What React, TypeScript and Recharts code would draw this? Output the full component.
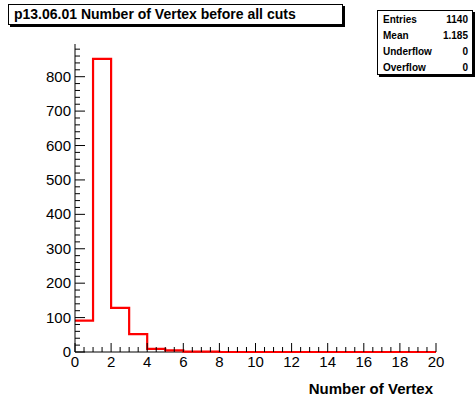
import { ComposedChart, Line, XAxis, YAxis, ReferenceLine } from 'recharts';

// bin lower edges 0..20 (last point closes the final step)
const binEdges = [0, 1, 2, 3, 4, 5, 6, 7, 8, 9, 10, 11, 12, 13, 14, 15, 16, 17, 18, 19, 20];
const binCounts = [91, 852, 128, 52, 9, 5, 1, 1, 0, 0, 0, 0, 0, 0, 0, 0, 0, 0, 0, 0, 0];

const xTicks = Array.from({ length: 41 }, (_, i) => i * 0.5);
const yTicks = Array.from({ length: 45 }, (_, i) => i * 20);
const xDomain = [0, 20];
const yDomain = [0, 895];

const statLabels = ['Entries', 'Mean', 'Underflow', 'Overflow'];
const statValues = ['1140', '1.185', '0', '0'];

const FONT = '"Liberation Sans", Arial, Helvetica, sans-serif';

const data = binEdges.map((x, i) => ({ x, n: binCounts[i] }));

const renderYTick = (props: any) => {
  const { x, y, payload } = props;
  const major = payload.value % 100 === 0;
  return (
    <g>
      <line x1={x} x2={x + (major ? 10 : 5)} y1={y} y2={y} stroke="#000" strokeWidth={1} />
      {major && (
        <text x={x - 4} y={y + 5} textAnchor="end" fontFamily={FONT} fontSize={15} fill="#000">
          {payload.value}
        </text>
      )}
    </g>
  );
};

const renderXTick = (props: any) => {
  const { x, y, payload } = props;
  const major = payload.value % 2 === 0;
  return (
    <g>
      <line x1={x} x2={x} y1={y} y2={y - (major ? 9 : 5)} stroke="#000" strokeWidth={1} />
      {major && (
        <text x={x} y={y + 15} textAnchor="middle" fontFamily={FONT} fontSize={15} fill="#000">
          {payload.value}
        </text>
      )}
    </g>
  );
};

export default function App() {
  return (
    <div style={{ position: 'fixed', left: 0, top: 0, width: 475, height: 401, background: '#fff', fontFamily: FONT }}>
      <ComposedChart width={475} height={401} data={data} margin={{ top: 44, right: 39, bottom: 19, left: 15 }}>
        <XAxis
          dataKey="x"
          type="number"
          domain={xDomain}
          ticks={xTicks}
          interval={0}
          height={30}
          tickSize={0}
          tickMargin={0}
          tickLine={false}
          axisLine={false}
          tick={renderXTick}
          stroke="#000"
        />
        <XAxis xAxisId="top" orientation="top" dataKey="x" type="number" domain={xDomain} height={0} tick={false} tickLine={false} stroke="#000" />
        <YAxis
          type="number"
          domain={yDomain}
          ticks={yTicks}
          interval={0}
          width={60}
          tickSize={0}
          tickMargin={0}
          tickLine={false}
          tick={renderYTick}
          stroke="#000"
        />
        <YAxis yAxisId="right" orientation="right" type="number" domain={yDomain} width={0} tick={false} tickLine={false} stroke="#000" />
        <ReferenceLine y={0} stroke="#000" strokeWidth={1} />
        <Line
          type="stepAfter"
          dataKey="n"
          stroke="#ff0000"
          strokeWidth={2.2}
          dot={false}
          isAnimationActive={false}
        />
      </ComposedChart>

      <div
        style={{
          position: 'absolute', left: 8, top: 4, width: 328, height: 19,
          border: '1px solid #000', boxShadow: '2px 2px 0 #000', background: '#fff',
          fontWeight: 'bold', fontSize: 14, lineHeight: '19px', paddingLeft: 5, boxSizing: 'content-box',
        }}
      >
        p13.06.01 Number of Vertex before all cuts
      </div>

      <div
        style={{
          position: 'absolute', left: 377, top: 10, width: 94, height: 63,
          border: '1px solid #000', boxShadow: '2px 2px 0 #000', background: '#fff',
        }}
      >
        {statLabels.map((label, i) => (
          <div
            key={label}
            style={{
              position: 'absolute', left: 5, right: 4, top: i * 16, height: 16,
              display: 'flex', justifyContent: 'space-between', alignItems: 'center',
              fontWeight: 'bold', fontSize: 10,
            }}
          >
            <span>{label}</span>
            <span>{statValues[i]}</span>
          </div>
        ))}
      </div>

      <div
        style={{
          position: 'absolute', right: 42, top: 380, fontWeight: 'bold', fontSize: 15, whiteSpace: 'nowrap',
        }}
      >
        Number of Vertex
      </div>
    </div>
  );
}
